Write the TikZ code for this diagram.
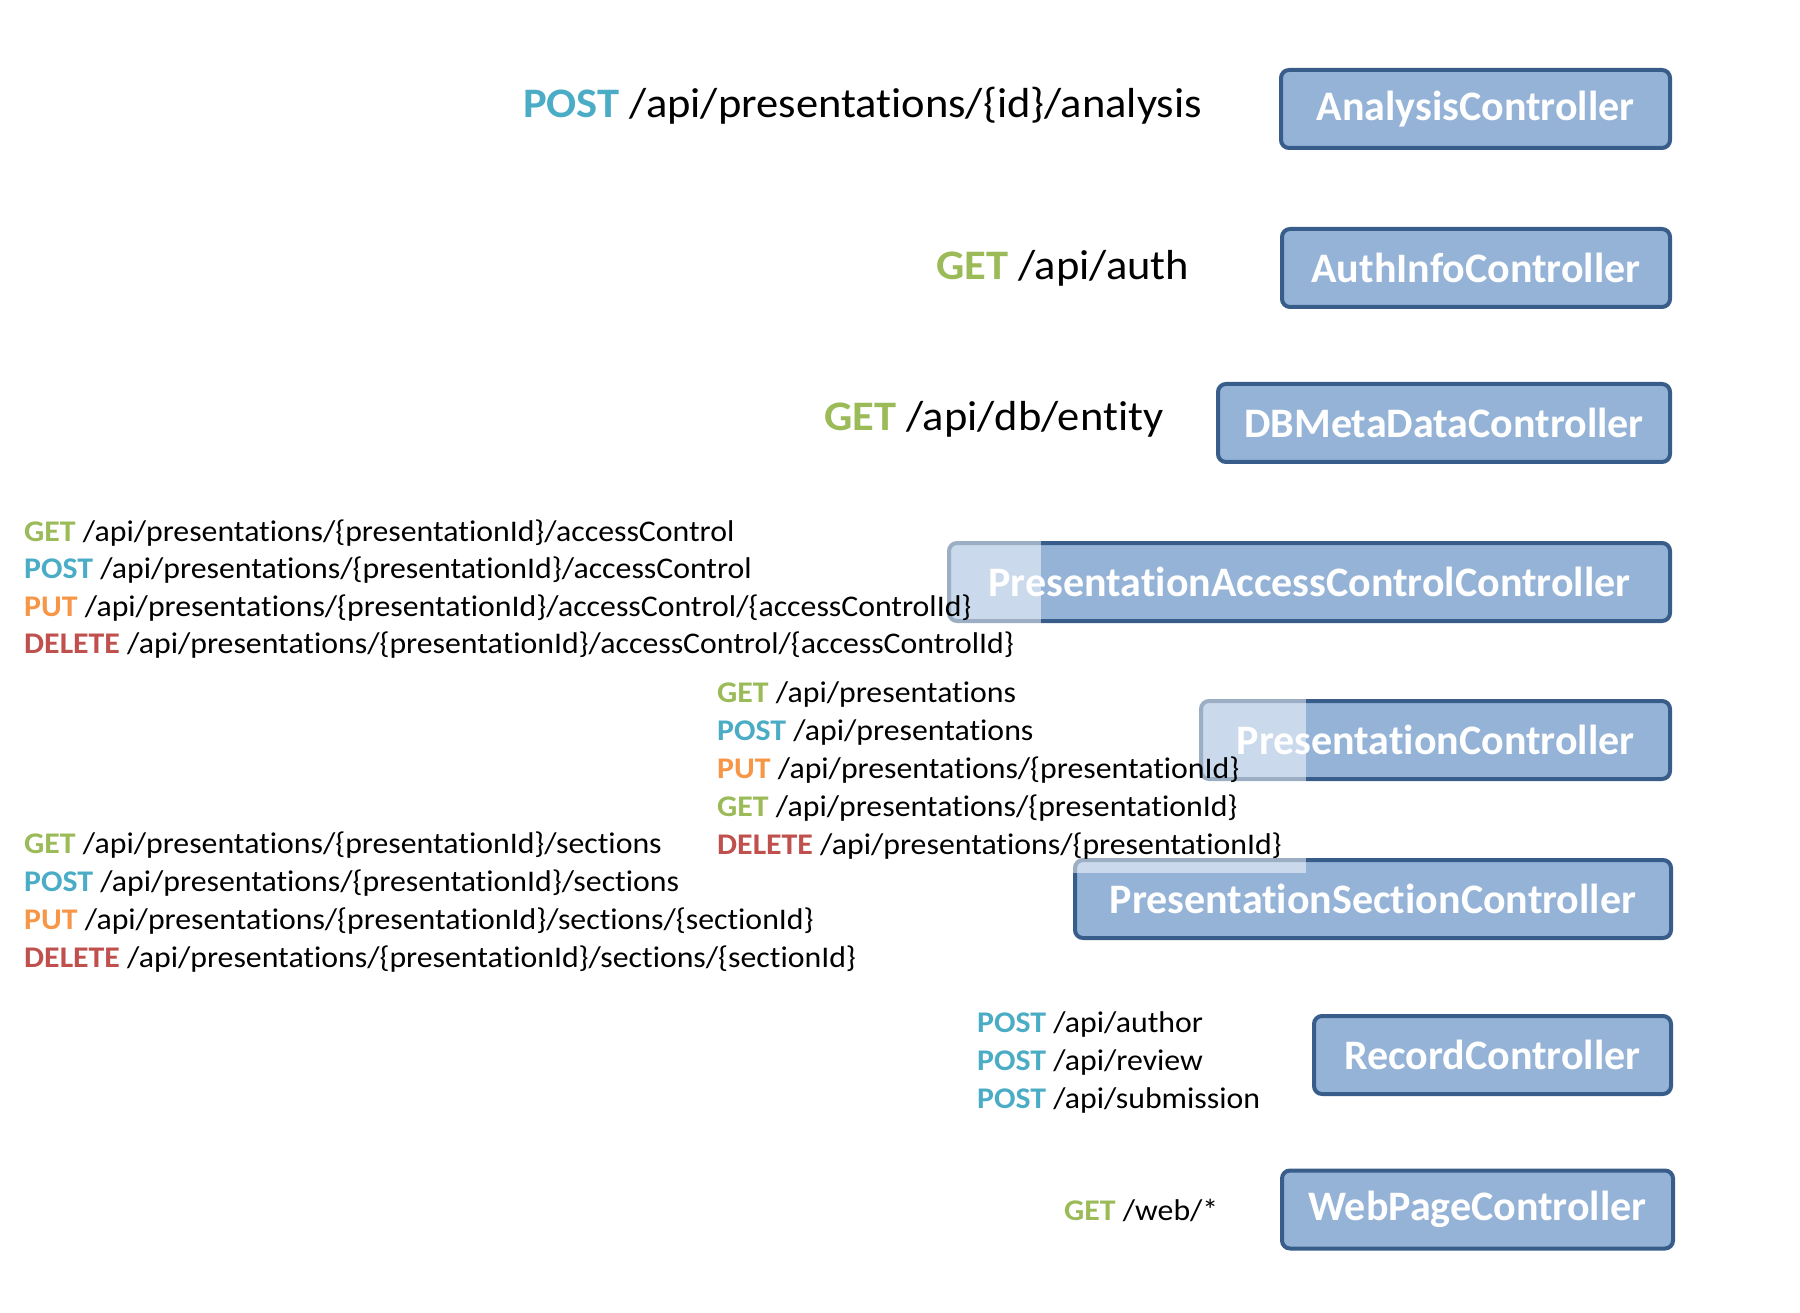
\documentclass[tikz,border=0pt]{standalone}
\usepackage{fontspec}
\setmainfont{Carlito}[Ligatures=NoCommon]
\newfontfamily\lblfont{Carlito}[FakeStretch=1.06,Ligatures=NoCommon]
\definecolor{cget}{HTML}{9BBB59}
\definecolor{cpost}{HTML}{4BACC6}
\definecolor{cput}{HTML}{F79646}
\definecolor{cdel}{HTML}{C0504D}
\definecolor{boxfill}{HTML}{95B3D7}
\definecolor{boxline}{HTML}{385D8A}
\newcommand{\mGET}{\textbf{\color{cget}GET}}
\newcommand{\mPOST}{\textbf{\color{cpost}POST}}
\newcommand{\mPUT}{\textbf{\color{cput}PUT}}
\newcommand{\mDEL}{\textbf{\color{cdel}DELETE}}
\begin{document}
\begin{tikzpicture}[x=1pt,y=-1pt,
  ctrl/.style={draw=boxline, fill=boxfill, line width=4pt, rounded corners=8pt,
    minimum height=78pt, inner sep=0pt, text=white,
    font=\fontsize{42}{50}\selectfont\bfseries},
  biglbl/.style={anchor=base west, inner sep=0pt, font=\lblfont\fontsize{42}{50}\selectfont},
  lbl/.style={anchor=base west, inner sep=0pt, font=\lblfont\fontsize{30}{37}\selectfont},
  veil/.style={fill=white, fill opacity=0.5, draw=none}]
\useasboundingbox (0,0) rectangle (1800,1313);
% controllers
\node[ctrl, minimum width=389pt] (analysis) at (1475.5,109) {AnalysisController};
\node[ctrl, minimum width=388pt] (auth) at (1476,268) {AuthInfoController};
\node[ctrl, minimum width=452pt] (dbmeta) at (1444,423) {DBMetaDataController};
\node[ctrl, minimum width=721pt] (pacc) at (1309.5,582) {PresentationAccessControlController};
\node[ctrl, minimum width=469pt] (pres) at (1435.5,740) {PresentationController};
\node[ctrl, minimum width=596pt] (psc) at (1373,899) {PresentationSectionController};
\node[ctrl, minimum width=357pt] (record) at (1492.5,1055) {RecordController};
\node[ctrl, minimum width=391pt] (web) at (1477.5,1209.5) {WebPageController};
% translucent text frames
\path[veil] (0,500) rectangle (1041,670);
\path[veil] (700,672) rectangle (1306,873);
% big labels
\node[biglbl] (lanalysis) at (523,118) {\mPOST{} /api/presentations/\{id\}/analysis};
\node[biglbl] (lauth) at (936,280) {\mGET{} /api/auth};
\node[biglbl] (ldb) at (824,431) {\mGET{} /api/db/entity};
% access control list
\node[lbl] (acl1) at (24,541) {\mGET{} /api/presentations/\{presentationId\}/accessControl};
\node[lbl] (acl2) at (24,578.5) {\mPOST{} /api/presentations/\{presentationId\}/accessControl};
\node[lbl] (acl3) at (24,616) {\mPUT{} /api/presentations/\{presentationId\}/accessControl/\{accessControlId\}};
\node[lbl] (acl4) at (24,653.5) {\mDEL{} /api/presentations/\{presentationId\}/accessControl/\{accessControlId\}};
% presentation list
\node[lbl] (pr1) at (717,702) {\mGET{} /api/presentations};
\node[lbl] (pr2) at (717,740) {\mPOST{} /api/presentations};
\node[lbl] (pr3) at (717,778) {\mPUT{} /api/presentations/\{presentationId\}};
\node[lbl] (pr4) at (717,816) {\mGET{} /api/presentations/\{presentationId\}};
\node[lbl] (pr5) at (717,854) {\mDEL{} /api/presentations/\{presentationId\}};
% sections list
\node[lbl] (sc1) at (24,853) {\mGET{} /api/presentations/\{presentationId\}/sections};
\node[lbl] (sc2) at (24,891) {\mPOST{} /api/presentations/\{presentationId\}/sections};
\node[lbl] (sc3) at (24,929) {\mPUT{} /api/presentations/\{presentationId\}/sections/\{sectionId\}};
\node[lbl] (sc4) at (24,967) {\mDEL{} /api/presentations/\{presentationId\}/sections/\{sectionId\}};
% record list
\node[lbl] (rc1) at (977,1032) {\mPOST{} /api/author};
\node[lbl] (rc2) at (977,1070) {\mPOST{} /api/review};
\node[lbl] (rc3) at (977,1108) {\mPOST{} /api/submission};
% web
\node[lbl] (lweb) at (1064,1220) {\mGET{} /web/*};
\end{tikzpicture}
\end{document}
